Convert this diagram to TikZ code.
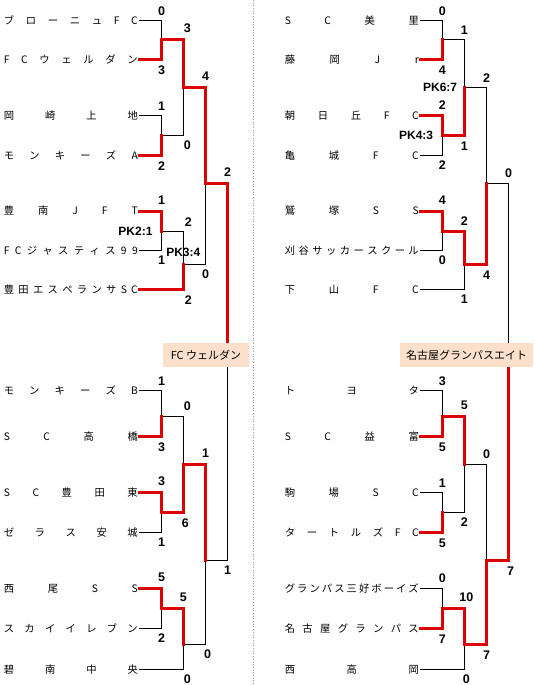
\documentclass[tikz,border=0pt]{standalone}
\usepackage{fontspec}
\setmainfont{Liberation Sans}
\newfontfamily\jpfont{Noto Sans CJK JP}
\usetikzlibrary{positioning}
\definecolor{winred}{RGB}{221,0,0}
\definecolor{champbg}{RGB}{253,224,204}
\newcommand{\spread}[1]{\makebox[134pt][s]{#1}}

\begin{document}
\begin{tikzpicture}[x=1pt, y=-1pt,
  team/.style={anchor=east, inner xsep=1pt, inner ysep=0pt, text height=0.88em,
               text depth=0.12em, font=\jpfont\fontsize{10.3}{12}\selectfont},
  score/.style={inner sep=0pt, font=\fontsize{12.5}{14}\selectfont\bfseries},
  pk/.style={inner sep=0pt, font=\fontsize{12}{14}\selectfont\bfseries},
  champ/.style={fill=champbg, minimum height=24pt, inner xsep=4pt,
                font=\jpfont\fontsize{11}{13}\selectfont},
  win/.style={draw=winred, line width=3pt, line cap=rect},
  lose/.style={draw=black, line width=0.8pt},
  sep/.style={draw=black!40, dotted, line width=0.7pt},
]
  \useasboundingbox (0,0) rectangle (535,685);

  % Separator
  \coordinate (sepT) at (253.5,0);
  \coordinate (sepB) at (253.5,685);
  \draw[sep] (sepT) -- (sepB);

  % Left side teams
  \node[team] (brou)  at (139,20.7)  {\spread{ブ ロ ー ニ ュ F C}};
  \node[team] (weld)  at (139,59.3)  {\spread{F C ウ ェ ル ダ ン}};
  \node[team] (okaz)  at (139,115.5) {\spread{岡 崎 上 地}};
  \node[team] (monA)  at (139,155.3) {\spread{モ ン キ ー ズ A}};
  \node[team] (honan) at (139,211)   {\spread{豊 南 J F T}};
  \node[team] (just)  at (139,250.3) {\spread{F C ジ ャ ス テ ィ ス 9 9}};
  \node[team] (espe)  at (139,289.7) {\spread{豊 田 エ ス ペ ラ ン サ S C}};
  \node[team] (monB)  at (139,390.7) {\spread{モ ン キ ー ズ B}};
  \node[team] (taka)  at (139,436.7) {\spread{S C 高 橋}};
  \node[team] (tyhg)  at (139,492.5) {\spread{S C 豊 田 東}};
  \node[team] (zela)  at (139,532.3) {\spread{ゼ ラ ス 安 城}};
  \node[team] (nish)  at (139,588.3) {\spread{西 尾 S S}};
  \node[team] (sky)   at (139,628.5) {\spread{ス カ イ イ レ ブ ン}};
  \node[team] (heki)  at (139,669.3) {\spread{碧 南 中 央}};

  % Right side teams
  \node[team] (misa)  at (420,20.7)  {\spread{S C 美 里}};
  \node[team] (fuji)  at (420,59.3)  {\spread{藤 岡 J r}};
  \node[team] (asahi) at (420,115.5) {\spread{朝 日 丘 F C}};
  \node[team] (kame)  at (420,155.3) {\spread{亀 城 F C}};
  \node[team] (wash)  at (420,211)   {\spread{鷲 塚 S S}};
  \node[team] (kari)  at (420,250.3) {\spread{刈 谷 サ ッ カ ー ス ク ー ル}};
  \node[team] (shimo) at (420,289.7) {\spread{下 山 F C}};
  \node[team] (toyo)  at (420,390.7) {\spread{ト ヨ タ}};
  \node[team] (masu)  at (420,436.7) {\spread{S C 益 富}};
  \node[team] (koma)  at (420,492.5) {\spread{駒 場 S C}};
  \node[team] (turt)  at (420,532.3) {\spread{タ ー ト ル ズ F C}};
  \node[team] (miyo)  at (420,588.3) {\spread{グ ラ ン パ ス 三 好 ボ ー イ ズ}};
  \node[team] (gram)  at (420,628.5) {\spread{名 古 屋 グ ラ ン パ ス}};
  \node[team] (nsta)  at (420,669.3) {\spread{西 高 岡}};

  % Left junctions
  \coordinate (m1) at (161.7,39.5);
  \coordinate (m2) at (161.7,135);
  \coordinate (m3) at (161.7,231.5);
  \coordinate (m4) at (161.7,416.3);
  \coordinate (m5) at (161.7,512.3);
  \coordinate (m6) at (161.7,608.3);
  \coordinate (j1) at (183.3,87.5);
  \coordinate (j2) at (183.3,264);
  \coordinate (j3) at (183.3,464.3);
  \coordinate (j4) at (183.3,644.3);
  \coordinate (q1) at (205.7,183.3);
  \coordinate (q2) at (205.7,560.5);
  \coordinate (finL) at (227.7,355);

  % Right junctions
  \coordinate (n1) at (442.3,39.5);
  \coordinate (n2) at (442.3,135);
  \coordinate (n3) at (442.3,231.5);
  \coordinate (n4) at (442.3,416.3);
  \coordinate (n5) at (442.3,512.3);
  \coordinate (n6) at (442.3,608.3);
  \coordinate (k1) at (464.3,87.5);
  \coordinate (k2) at (464.3,264);
  \coordinate (k3) at (464.3,464.3);
  \coordinate (k4) at (464.3,644.3);
  \coordinate (p1) at (486.5,183.3);
  \coordinate (p2) at (486.5,560.5);
  \coordinate (finR) at (508.5,355);

  % Left, losing paths
  \draw[lose] (brou.east) -| node[score, above=5pt] (la1) {0} (m1);
  \draw[lose] (okaz.east) -| node[score, above=5pt] (la3) {1} (m2);
  \draw[lose] (just.east) -| node[score, below=5pt] (la6) {1} (m3);
  \draw[lose] (m2) -| node[score, below=5pt, xshift=4pt] (la8) {0} (j1);
  \draw[lose] (m3) -| node[score, above=5pt, xshift=5pt] (la9) {2} (j2);
  \draw[lose] (j2) -| node[score, below=5pt] (la12) {0} (q1);
  \draw[lose] (monB.east) -| node[score, above=5pt] (lb1) {1} (m4);
  \draw[lose] (zela.east) -| node[score, below=5pt] (lb4) {1} (m5);
  \draw[lose] (m4) -| node[score, above=5pt, xshift=4pt] (lb5) {0} (j3);
  \draw[lose] (sky.east) -| node[score, below=5pt] (lb8) {2} (m6);
  \draw[lose] (heki.east) -| node[score, below=5pt, xshift=4pt] (lb10) {0} (j4);
  \draw[lose] (j4) -| node[score, below=5pt, xshift=2pt] (lb12) {0} (q2);
  \draw[lose] (q2) -| node[score, below=5pt] (lf2) {1} (finL);

  % Right, losing paths
  \draw[lose] (misa.east) -| node[score, above=5pt] (ra1) {0} (n1);
  \draw[lose] (kame.east) -| node[score, below=5pt] (ra4) {2} (n2);
  \draw[lose] (n1) -| node[score, above=5pt] (ra5) {1} (k1);
  \draw[lose] (kari.east) -| node[score, below=5pt] (ra8) {0} (n3);
  \draw[lose] (shimo.east) -| node[score, below=5pt] (ra10) {1} (k2);
  \draw[lose] (k1) -| node[score, above=5pt] (ra11) {2} (p1);
  \draw[lose] (toyo.east) -| node[score, above=5pt] (rb1) {3} (n4);
  \draw[lose] (koma.east) -| node[score, above=5pt] (rb3) {1} (n5);
  \draw[lose] (n5) -| node[score, below=5pt] (rb6) {2} (k3);
  \draw[lose] (miyo.east) -| node[score, above=5pt] (rb7) {0} (n6);
  \draw[lose] (nsta.east) -| node[score, below=5pt, xshift=2pt] (rb10) {0} (k4);
  \draw[lose] (k3) -| node[score, above=5pt] (rb11) {0} (p2);
  \draw[lose] (p1) -| node[score, above=5pt] (rf1) {0} (finR);

  % Left, winning paths
  \draw[win] (weld.east) -| node[score, below=5pt] (la2) {3} (m1);
  \draw[win] (monA.east) -| node[score, below=5pt] (la4) {2} (m2);
  \draw[win] (honan.east) -| node[score, above=5pt] (la5) {1} (m3);
  \draw[win] (m1) -| node[score, above=5pt, xshift=4pt] (la7) {3} (j1);
  \draw[win] (espe.east) -| node[score, below=5pt, xshift=5pt] (la10) {2} (j2);
  \draw[win] (j1) -| node[score, above=5pt] (la11) {4} (q1);
  \draw[win] (q1) -| node[score, above=5pt] (lf1) {2} (finL);
  \draw[win] (taka.east) -| node[score, below=5pt] (lb2) {3} (m4);
  \draw[win] (tyhg.east) -| node[score, above=5pt] (lb3) {3} (m5);
  \draw[win] (m5) -| node[score, below=5pt, xshift=2pt] (lb6) {6} (j3);
  \draw[win] (nish.east) -| node[score, above=5pt] (lb7) {5} (m6);
  \draw[win] (m6) -| node[score, above=5pt] (lb9) {5} (j4);
  \draw[win] (j3) -| node[score, above=5pt] (lb11) {1} (q2);

  % Right, winning paths
  \draw[win] (fuji.east) -| node[score, below=5pt] (ra2) {4} (n1);
  \draw[win] (asahi.east) -| node[score, above=5pt] (ra3) {2} (n2);
  \draw[win] (n2) -| node[score, below=5pt] (ra6) {1} (k1);
  \draw[win] (wash.east) -| node[score, above=5pt] (ra7) {4} (n3);
  \draw[win] (n3) -| node[score, above=5pt] (ra9) {2} (k2);
  \draw[win] (k2) -| node[score, below=5pt] (ra12) {4} (p1);
  \draw[win] (masu.east) -| node[score, below=5pt] (rb2) {5} (n4);
  \draw[win] (turt.east) -| node[score, below=5pt] (rb4) {5} (n5);
  \draw[win] (n4) -| node[score, above=5pt] (rb5) {5} (k3);
  \draw[win] (gram.east) -| node[score, below=5pt] (rb8) {7} (n6);
  \draw[win] (n6) -| node[score, above=5pt, xshift=2pt] (rb9) {10} (k4);
  \draw[win] (k4) -| node[score, below=5pt] (rb12) {7} (p2);
  \draw[win] (p2) -| node[score, below=5pt, xshift=2pt] (rf2) {7} (finR);

  % PK results
  \node[pk, left=9pt]  (pk1) at (m3) {PK2:1};
  \node[pk, above=7pt] (pk2) at (j2) {PK3:4};
  \node[pk, left=9pt]  (pk3) at (n2) {PK4:3};
  \node[pk, left=7pt]  (pk4) at (k1) {PK6:7};

  % Champions
  \node[champ, minimum width=86pt]  (champL) at (206,355)   {FC ウェルダン};
  \node[champ, minimum width=133pt] (champR) at (466.5,355) {名古屋グランパスエイト};
\end{tikzpicture}
\end{document}
